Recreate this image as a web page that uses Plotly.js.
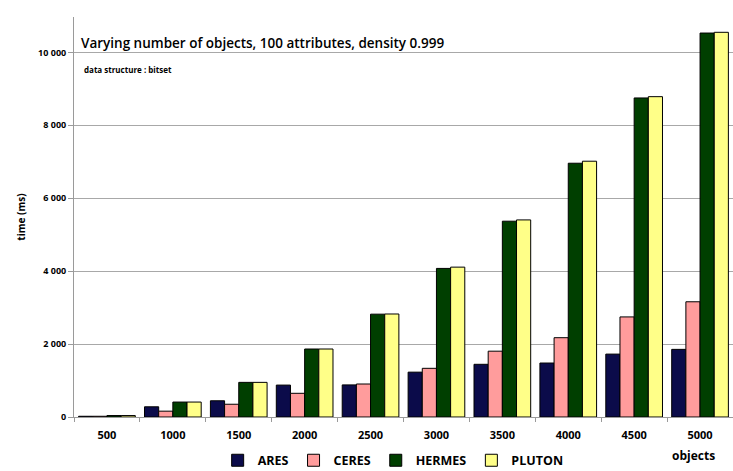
<!DOCTYPE html>
<html>
<head>
<meta charset="utf-8">
<script src="https://cdn.plot.ly/plotly-3.0.1.min.js"></script>
<style>html,body{margin:0;padding:0;background:#fff;}#chart{width:733px;height:471px;}</style>
</head>
<body>
<div id="chart"></div>
<script>
var categories = ['500','1000','1500','2000','2500','3000','3500','4000','4500','5000'];
var ares   = [20, 280, 445, 875, 880, 1230, 1445, 1480, 1725, 1855];
var ceres  = [20, 160, 350, 650, 905, 1335, 1805, 2175, 2745, 3160];
var hermes = [40, 410, 950, 1865, 2820, 4075, 5370, 6960, 8750, 10530];
var pluton = [40, 410, 950, 1865, 2825, 4110, 5405, 7015, 8785, 10550];
var seriesNames = ['ARES','CERES','HERMES','PLUTON'];
var seriesColors = ['#0b0b4a','#ff9c9c','#003f00','#ffff88'];
var seriesValues = [ares, ceres, hermes, pluton];

var FONT = 'Open Sans, Liberation Sans, sans-serif';
var traces = seriesValues.map(function(v, i){
  return {
    type: 'bar', x: categories, y: v, name: seriesNames[i],
    marker: {color: seriesColors[i], line: {color: '#000', width: 1}}
  };
});

var layout = {
  width: 733, height: 471,
  margin: {l: 74, r: 0, t: 17, b: 54, autoexpand: false},
  paper_bgcolor: '#fff', plot_bgcolor: '#fff',
  separators: '. ',
  barmode: 'group', bargap: 0.14, bargroupgap: 0,
  showlegend: true,
  legend: {orientation: 'h', x: 0.218, xanchor: 'left', yref: 'container', y: 0.022, yanchor: 'middle',
           font: {family: FONT, size: 12.5, color: '#000', weight: 'bold'},
           itemwidth: 30, tracegroupgap: 0, bgcolor: 'rgba(0,0,0,0)'},
  xaxis: {type: 'category', showgrid: false, showline: true, linecolor: '#9a9a9a', linewidth: 1,
          ticks: 'outside', tickson: 'boundaries', ticklen: 4, tickcolor: '#9a9a9a',
          ticklabelstandoff: 8,
          tickfont: {family: FONT, size: 11, color: '#000', weight: 'bold'}},
  yaxis: {range: [0, 10970], tickvals: [0,2000,4000,6000,8000,10000], tickformat: ',d',
          showgrid: true, gridcolor: '#a8a8a8', gridwidth: 1, zeroline: false,
          showline: true, linecolor: '#9a9a9a', linewidth: 1,
          ticks: 'outside', ticklen: 5, tickcolor: '#9a9a9a',
          tickfont: {family: FONT, size: 9, color: '#000', weight: 'bold'},
          title: {text: 'time (ms)', standoff: 10, font: {family: FONT, size: 10, color: '#000', weight: 'bold'}}},
  annotations: [
    {xref: 'paper', yref: 'paper', x: 0.008, y: 0.935, xanchor: 'left', yanchor: 'middle', showarrow: false,
     text: 'Varying number of objects, 100 attributes, density 0.999',
     font: {family: FONT, size: 13.5, color: '#000', weight: 600}},
    {xref: 'paper', yref: 'paper', x: 0.012, y: 0.868, xanchor: 'left', yanchor: 'middle', showarrow: false,
     text: 'data structure : bitset',
     font: {family: FONT, size: 8, color: '#000', weight: 'bold'}},
    {xref: 'paper', yref: 'paper', x: 0.94, y: -0.095, xanchor: 'center', yanchor: 'middle', showarrow: false,
     text: 'objects',
     font: {family: FONT, size: 12, color: '#000', weight: 'bold'}}
  ]
};

Plotly.newPlot('chart', traces, layout, {displayModeBar: false, staticPlot: true});
</script>
</body>
</html>
